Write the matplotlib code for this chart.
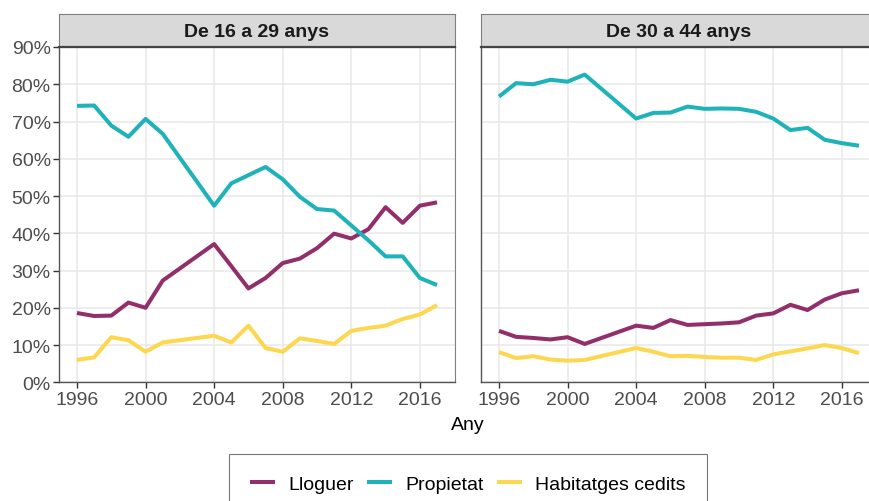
import matplotlib.pyplot as plt
import numpy as np
from matplotlib.ticker import FuncFormatter

plt.rcParams['font.family'] = ['Liberation Sans', 'DejaVu Sans']

years = [1996, 1997, 1998, 1999, 2000, 2001, 2004, 2005, 2006, 2007,
         2008, 2009, 2010, 2011, 2012, 2013, 2014, 2015, 2016, 2017]

panels = ['De 16 a 29 anys', 'De 30 a 44 anys']
series = ['Lloguer', 'Propietat', 'Habitatges cedits']

# percentages
lloguer_16_29 = [18.6, 17.8, 17.9, 21.4, 20.0, 27.3, 37.1, 31.2, 25.2, 28.0,
                 32.0, 33.2, 36.0, 39.9, 38.6, 41.1, 47.0, 42.8, 47.4, 48.3]
propietat_16_29 = [74.2, 74.3, 68.9, 65.9, 70.7, 66.7, 47.4, 53.4, 55.6, 57.8,
                   54.5, 49.8, 46.5, 46.1, 42.1, 38.1, 33.8, 33.8, 28.0, 26.1]
cedits_16_29 = [6.0, 6.7, 12.1, 11.3, 8.2, 10.7, 12.5, 10.7, 15.2, 9.2,
                8.2, 11.8, 11.1, 10.3, 13.8, 14.6, 15.2, 17.0, 18.2, 20.7]

lloguer_30_44 = [13.8, 12.2, 11.9, 11.5, 12.1, 10.3, 15.2, 14.6, 16.7, 15.4,
                 15.6, 15.8, 16.1, 17.9, 18.5, 20.8, 19.4, 22.2, 23.9, 24.7]
propietat_30_44 = [76.7, 80.3, 80.0, 81.2, 80.7, 82.6, 70.8, 72.3, 72.4, 74.0,
                   73.4, 73.5, 73.4, 72.6, 70.8, 67.7, 68.3, 65.1, 64.2, 63.5]
cedits_30_44 = [8.1, 6.5, 7.0, 6.1, 5.8, 6.0, 9.2, 8.2, 7.0, 7.1,
                6.8, 6.6, 6.6, 6.0, 7.5, 8.3, 9.1, 10.0, 9.2, 7.8]

data = [[lloguer_16_29, propietat_16_29, cedits_16_29],
        [lloguer_30_44, propietat_30_44, cedits_30_44]]
colors = ['#922f6b', '#1fb2b9', '#fdd74f']

x_ticks = [1996, 2000, 2004, 2008, 2012, 2016]
y_ticks = [0, 10, 20, 30, 40, 50, 60, 70, 80, 90]

W, H = 870, 502
fig = plt.figure(figsize=(W / 100, H / 100), dpi=100)

# panel geometry in pixels (right panel runs off the edge, as in the source)
lefts = [59, 481]
pw = 396
top, bottom = 48, 383.3
strip_top = 15

lines = []
for i, name in enumerate(panels):
    ax = fig.add_axes([lefts[i] / W, 1 - bottom / H, pw / W, (bottom - top) / H])
    for j, s in enumerate(series):
        ln, = ax.plot(years, data[i][j], color=colors[j], lw=2.9,
                      solid_capstyle='butt', label=s, zorder=3)
        if i == 0:
            lines.append(ln)
    ax.set_xlim(1994.95, 2018.05)
    ax.set_ylim(0, 90)
    ax.set_xticks(x_ticks)
    ax.set_yticks(y_ticks)
    ax.grid(True, color='#e8e8e8', lw=1.1, zorder=0)
    ax.set_axisbelow(True)
    for sp in ['top', 'right']:
        ax.spines[sp].set_color('#7f7f7f')
        ax.spines[sp].set_linewidth(0.8)
    for sp in ['left', 'bottom']:
        ax.spines[sp].set_color('#555555')
        ax.spines[sp].set_linewidth(1.0)
    ax.tick_params(axis='both', length=4, width=1.0, color='#333333',
                   labelsize=14, labelcolor='#4d4d4d', pad=2)
    if i == 0:
        ax.yaxis.set_major_formatter(FuncFormatter(lambda v, p: '%d%%' % v))
    else:
        ax.tick_params(axis='y', length=0, labelleft=False)

    # facet strip
    sax = fig.add_axes([lefts[i] / W, 1 - top / H, pw / W, (top - strip_top) / H])
    sax.set_facecolor('#d9d9d9')
    sax.set_xticks([])
    sax.set_yticks([])
    for sp in sax.spines.values():
        sp.set_color('#7f7f7f')
        sp.set_linewidth(0.8)
    sax.spines['bottom'].set_color('#444444')
    sax.spines['bottom'].set_linewidth(1.6)
    sax.text(0.5, 0.47, name, transform=sax.transAxes, ha='center', va='center',
             fontsize=14, fontweight='bold', color='#1a1a1a')

fig.text(468 / W, 1 - 425 / H, 'Any', ha='center', va='center', fontsize=14,
         color='black')

leg = fig.legend(handles=lines, loc='upper center', bbox_to_anchor=(468 / W, 1 - 455 / H),
                 ncol=3, frameon=True, fontsize=14, handlelength=1.25,
                 columnspacing=0.7, handletextpad=0.7, borderpad=1.1,
                 borderaxespad=0, fancybox=False)
leg.get_frame().set_edgecolor('#555555')
leg.get_frame().set_linewidth(0.8)

fig.savefig('out.png', dpi=100)
